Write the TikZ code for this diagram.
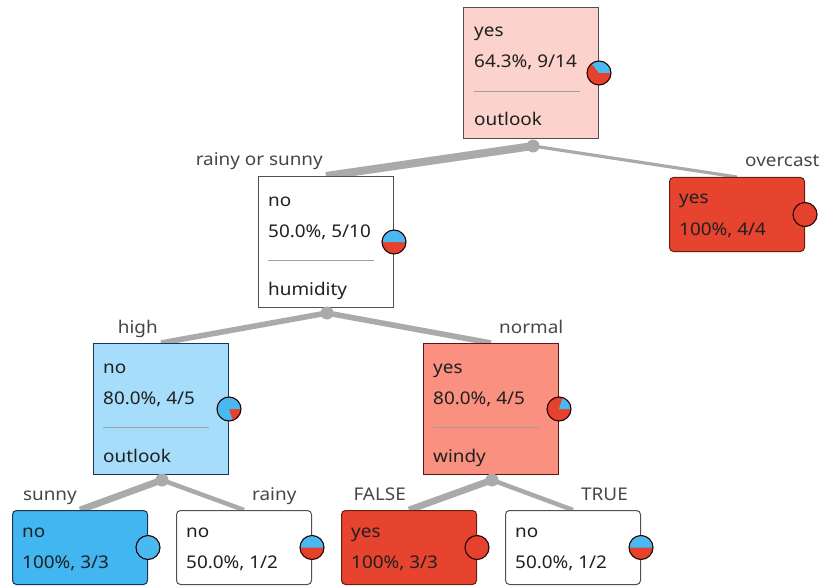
\documentclass[tikz,border=0pt]{standalone}
\usepackage{fontspec}
\setmainfont{Noto Sans}[FakeStretch=1.08]
\usetikzlibrary{calc}
\pgfdeclarelayer{background}
\pgfsetlayers{background,main}
\definecolor{rootfill}{RGB}{252,210,204}
\definecolor{salmon}{RGB}{250,144,128}
\definecolor{redfill}{RGB}{230,68,46}
\definecolor{lightblue}{RGB}{166,221,250}
\definecolor{bluefill}{RGB}{66,182,241}
\definecolor{piered}{RGB}{228,66,45}
\definecolor{pieblue}{RGB}{73,185,242}
\definecolor{edgegray}{RGB}{170,170,172}
\definecolor{txtgray}{RGB}{32,32,32}
\definecolor{lblgray}{RGB}{70,70,70}
\definecolor{bordgray}{RGB}{80,80,80}
\definecolor{redbord}{RGB}{105,30,20}
\definecolor{bluebord}{RGB}{25,55,80}
\newcommand\drawpie[4]{%
  \node[pienode, fill=#4] (#1) at (#2.east) {};
  \fill[pieblue] (#1.center) -- ++(0:12) arc[start angle=0, end angle=-#3, radius=12] -- cycle;
  \draw[pieline] (#1.center) circle[radius=12];
}
\begin{document}
\begin{tikzpicture}[x=1pt,y=-1pt,
  font=\fontsize{17.5}{20}\selectfont,
  box/.style={draw=bordgray, line width=1pt, minimum width=135pt, minimum height=131pt, anchor=north west, inner sep=0pt},
  leaf/.style={box, minimum height=74pt, rounded corners=4pt},
  txt/.style={anchor=base west, inner sep=0pt, text=txtgray},
  lbl/.style={inner sep=0pt, text=lblgray},
  lbll/.style={lbl, anchor=base east},
  lblr/.style={lbl, anchor=base west},
  sep/.style={draw=gray!75, line width=0.9pt},
  edge/.style={draw=edgegray},
  dot/.style={circle, fill=edgegray, minimum size=13pt, inner sep=0pt},
  pienode/.style={circle, minimum size=24pt, inner sep=0pt},
  pieline/.style={draw=black!85!red, line width=1.1pt},
]
\useasboundingbox (0,0) rectangle (821,588);

% boxes
\node[box, fill=rootfill] (root) at (463,7) {};
\node[box, fill=white] (rs) at (258,176) {};
\node[leaf, fill=redfill, draw=redbord] (oc) at (669,177) {};
\node[box, fill=lightblue, draw=bluebord] (hi) at (93,343) {};
\node[box, fill=salmon, draw=redbord!80!black] (no) at (423,343) {};
\node[leaf, fill=bluefill, draw=bluebord] (su) at (12,510) {};
\node[leaf, fill=white] (ra) at (176,510) {};
\node[leaf, fill=redfill, draw=redbord] (fa) at (341,510) {};
\node[leaf, fill=white] (tr) at (505,510) {};

% texts of inner nodes
\node[txt] (root-a) at ($(root.north west)+(11,30)$) {yes};
\node[txt] (root-b) at ($(root.north west)+(11,61)$) {64.3\%, 9/14};
\node[txt] (root-c) at ($(root.north west)+(11,119)$) {outlook};
\draw[sep] ($(root.north west)+(11,84)$) -- ($(root.north west)+(117,84)$);

\node[txt] (rs-a) at ($(rs.north west)+(10,30)$) {no};
\node[txt] (rs-b) at ($(rs.north west)+(10,61)$) {50.0\%, 5/10};
\node[txt] (rs-c) at ($(rs.north west)+(10,119)$) {humidity};
\draw[sep] ($(rs.north west)+(10,84)$) -- ($(rs.north west)+(116,84)$);

\node[txt] (hi-a) at ($(hi.north west)+(10,30)$) {no};
\node[txt] (hi-b) at ($(hi.north west)+(10,61)$) {80.0\%, 4/5};
\node[txt] (hi-c) at ($(hi.north west)+(10,119)$) {outlook};
\draw[sep] ($(hi.north west)+(10,84)$) -- ($(hi.north west)+(116,84)$);

\node[txt] (no-a) at ($(no.north west)+(10,30)$) {yes};
\node[txt] (no-b) at ($(no.north west)+(10,61)$) {80.0\%, 4/5};
\node[txt] (no-c) at ($(no.north west)+(10,119)$) {windy};
\draw[sep] ($(no.north west)+(10,84)$) -- ($(no.north west)+(116,84)$);

% texts of leaves
\node[txt] (oc-a) at ($(oc.north west)+(10,27)$) {yes};
\node[txt] (oc-b) at ($(oc.north west)+(10,58)$) {100\%, 4/4};
\node[txt] (su-a) at ($(su.north west)+(10,27)$) {no};
\node[txt] (su-b) at ($(su.north west)+(10,58)$) {100\%, 3/3};
\node[txt] (ra-a) at ($(ra.north west)+(10,27)$) {no};
\node[txt] (ra-b) at ($(ra.north west)+(10,58)$) {50.0\%, 1/2};
\node[txt] (fa-a) at ($(fa.north west)+(10,27)$) {yes};
\node[txt] (fa-b) at ($(fa.north west)+(10,58)$) {100\%, 3/3};
\node[txt] (tr-a) at ($(tr.north west)+(10,27)$) {no};
\node[txt] (tr-b) at ($(tr.north west)+(10,58)$) {50.0\%, 1/2};

% split dots
\node[dot] (root-d) at (533,146) {};
\node[dot] (rs-d) at (327,313) {};
\node[dot] (hi-d) at (162,480) {};
\node[dot] (no-d) at (492,480) {};

% edges
\begin{pgfonlayer}{background}
\draw[edge, line width=8pt] (root-d.center) -- (rs.north);
\draw[edge, line width=3.2pt] (root-d.center) -- (oc.north);
\draw[edge, line width=5.6pt] (rs-d.center) -- (hi.north);
\draw[edge, line width=5.6pt] (rs-d.center) -- (no.north);
\draw[edge, line width=6.7pt] (hi-d.center) -- (su.north);
\draw[edge, line width=4.5pt] (hi-d.center) -- (ra.north);
\draw[edge, line width=6.7pt] (no-d.center) -- (fa.north);
\draw[edge, line width=4.5pt] (no-d.center) -- (tr.north);
\end{pgfonlayer}

% edge labels
\node[lbll] (l-rs) at ($(rs.north)+(-3,-10)$) {rainy or sunny};
\node[lblr] (l-oc) at ($(oc.north)+(8,-10)$) {overcast};
\node[lbll] (l-hi) at ($(hi.north)+(-3,-10)$) {high};
\node[lblr] (l-no) at ($(no.north)+(8,-10)$) {normal};
\node[lbll] (l-su) at ($(su.north)+(-3,-10)$) {sunny};
\node[lblr] (l-ra) at ($(ra.north)+(8,-10)$) {rainy};
\node[lbll] (l-fa) at ($(fa.north)+(-3,-10)$) {FALSE};
\node[lblr] (l-tr) at ($(tr.north)+(8,-10)$) {TRUE};

% pies
\drawpie{root-p}{root}{128.6}{piered}
\drawpie{rs-p}{rs}{180}{piered}
\drawpie{oc-p}{oc}{0}{piered}
\drawpie{hi-p}{hi}{288}{piered}
\drawpie{no-p}{no}{72}{piered}
\drawpie{su-p}{su}{0}{pieblue}
\drawpie{ra-p}{ra}{180}{piered}
\drawpie{fa-p}{fa}{0}{piered}
\drawpie{tr-p}{tr}{180}{piered}
\end{tikzpicture}
\end{document}
